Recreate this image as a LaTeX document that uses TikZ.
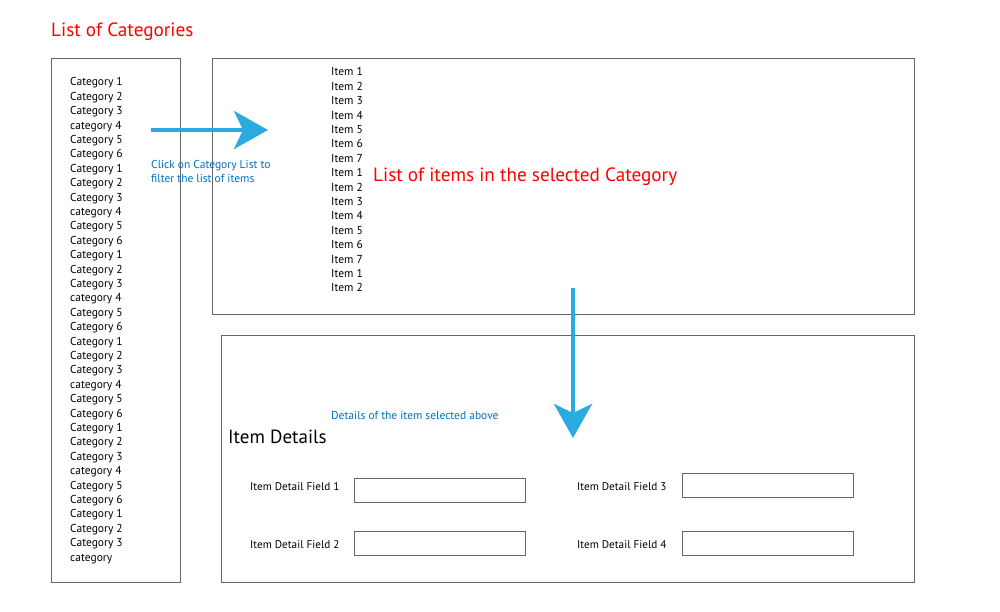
\documentclass[tikz,border=0pt]{standalone}
\usepackage{fontspec}
\setmainfont{PT Sans}
\usepackage{tikz}
\usetikzlibrary{arrows.meta}
\usetikzlibrary{positioning}
\definecolor{flowblue}{HTML}{29ABE2}
\definecolor{noteblue}{HTML}{0071BC}
\definecolor{titlered}{HTML}{FF0000}
\definecolor{framegray}{HTML}{666666}

\begin{document}
\begin{tikzpicture}[x=1pt,y=-1pt,
  panel/.style={draw=framegray, line width=1.2pt, anchor=north west, inner sep=0pt},
  fieldbox/.style={draw=framegray, line width=1.3pt, anchor=north west, inner sep=0pt, minimum width=171pt, minimum height=24pt},
  listtext/.style={anchor=north west, inner sep=0pt, align=left, font=\fontsize{11.5}{14.4}\selectfont},
  fieldlabel/.style={anchor=west, inner sep=0pt, font=\fontsize{11.2}{13}\selectfont},
  heading/.style={anchor=west, inner sep=0pt, text=titlered, font=\fontsize{19.2}{21}\selectfont},
  note/.style={anchor=west, inner sep=0pt, text=noteblue, align=left, font=\fontsize{11.5}{14}\selectfont}]
\tikzset{flow/.style = {-{Stealth[length=34pt, width=38pt, inset=9pt]}, flowblue, line width=4pt}}
\useasboundingbox (0,0) rectangle (1000,612);
% panels
\node[panel, minimum width=129pt, minimum height=524pt] (catpanel) at (51,58) {};
\node[panel, minimum width=702pt, minimum height=256pt] (itempanel) at (212,58) {};
\node[panel, minimum width=693pt, minimum height=247pt] (detailpanel) at (221,335) {};
% headings
\node[heading] (cattitle) at (51,32) {List of Categories};
\node[heading] (itemtitle) at (373,177) {List of items in the selected Category};
\node[anchor=west, inner sep=0pt, font=\fontsize{19}{21}\selectfont] (detailtitle) at (228,437) {Item Details};
% lists
\node[listtext] (catlist) at (70,77.5) {Category 1\\Category 2\\Category 3\\category 4\\Category 5\\Category 6\\
Category 1\\Category 2\\Category 3\\category 4\\Category 5\\Category 6\\
Category 1\\Category 2\\Category 3\\category 4\\Category 5\\Category 6\\
Category 1\\Category 2\\Category 3\\category 4\\Category 5\\Category 6\\
Category 1\\Category 2\\Category 3\\category 4\\Category 5\\Category 6\\
Category 1\\Category 2\\Category 3\\category};
\node[listtext] (itemlist) at (331,67.5) {Item 1\\Item 2\\Item 3\\Item 4\\Item 5\\Item 6\\Item 7\\
Item 1\\Item 2\\Item 3\\Item 4\\Item 5\\Item 6\\Item 7\\Item 1\\Item 2};
% notes
\node[note] (clicknote) at (151,171) {Click on Category List to\\filter the list of items};
\node[note] (detailnote) at (331,415) {Details of the item selected above};
% fields
\node[fieldlabel] (f1) at (250,487) {Item Detail Field 1};
\node[fieldlabel] (f2) at (250,545) {Item Detail Field 2};
\node[fieldlabel] (f3) at (577,487) {Item Detail Field 3};
\node[fieldlabel] (f4) at (577,545) {Item Detail Field 4};
\node[fieldbox] (box1) at (354,478) {};
\node[fieldbox] (box2) at (354,531) {};
\node[fieldbox] (box3) at (682,473) {};
\node[fieldbox] (box4) at (682,531) {};
% arrows
\coordinate (clickfrom) at (151,130);
\coordinate (clickto) at (268,130);
\coordinate (pickfrom) at (573,288);
\coordinate (pickto) at (573,438);
\draw[flow] (clickfrom) -- (clickto);
\draw[flow] (pickfrom) -- (pickto);
\end{tikzpicture}
\end{document}
